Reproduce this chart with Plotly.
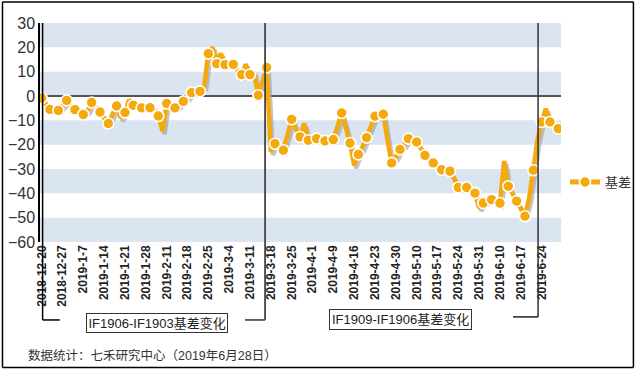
import plotly.graph_objects as go

# ---------------- data ----------------
tick_labels = ["2018-12-20", "2018-12-27", "2019-1-7", "2019-1-14", "2019-1-21",
               "2019-1-28", "2019-2-11", "2019-2-18", "2019-2-25", "2019-3-4",
               "2019-3-11", "2019-3-18", "2019-3-25", "2019-4-1", "2019-4-9",
               "2019-4-16", "2019-4-23", "2019-4-30", "2019-5-10", "2019-5-17",
               "2019-5-24", "2019-5-31", "2019-6-10", "2019-6-17", "2019-6-24"]
tick_step = 5  # trading days between labels

basis = [-0.8, -3, -5.5, -5.5, -5.9, -4, -1.8, -4, -5.6, -7,
         -7.6, -6, -2.7, -4.5, -6.6, -9, -11.3, -7.5, -4.1, -9,
         -6.8, -1.5, -3.8, -4.5, -4.9, -5, -4.8, -5.5, -8.2, -14.5,
         -3.1, -4, -4.9, -3.5, -2.2, -0.5, 1.4, 1.5, 1.9, 4,
         17.4, 20, 13.3, 17.5, 12.9, 13, 13, 10.5, 8.8, 13,
         8.8, 9, 0.3, 6, 11.7, -23, -19.6, -21, -22.3, -16,
         -9.6, -13.5, -16.8, -11.3, -18.2, -17.5, -17.5, -18, -18.5, -18,
         -17.9, -12.5, -7, -13, -19.3, -28.5, -24, -21, -17.1, -12.5,
         -8.3, -8, -7.5, -18, -27.5, -25, -22, -20, -17.5, -18,
         -18.9, -21.5, -24.4, -26, -27.5, -29, -30.3, -30.5, -30.9, -34,
         -37.6, -37.5, -37.6, -39, -39.9, -46, -44, -43, -42.6, -43.5,
         -44, -26.7, -37.1, -40, -43.2, -46, -49.4, -42, -30.5, -18,
         -10.7, -5.2, -10.7, -11.5, -13.4]
series_name = "基差"
marker_every = 2

y_ticks = [30, 20, 10, 0, -10, -20, -30, -40, -50, -60]
band_ranges = [(20, 30), (0, 10), (-20, -10), (-40, -30), (-60, -50)]

period_labels = ["IF1906-IF1903基差变化", "IF1909-IF1906基差变化"]
source_text = "数据统计：七禾研究中心（2019年6月28日）"

# ---------------- styles ----------------
ORANGE = "#F4A90C"
SHADOW = "rgba(150,150,150,0.55)"
BAND = "#DBE5F1"
FONT = "Arial, 'Liberation Sans', 'Noto Sans CJK SC', sans-serif"

x = list(range(len(basis)))
xm = x[::marker_every]
ym = basis[::marker_every]
x_shadow = [v + 0.5 for v in x]
y_shadow = [v - 1.2 for v in basis]

fig = go.Figure()
fig.add_trace(go.Scatter(x=x_shadow, y=y_shadow, mode="lines",
                         line=dict(color=SHADOW, width=4.5), showlegend=False,
                         hoverinfo="skip"))
fig.add_trace(go.Scatter(x=x, y=basis, mode="lines",
                         line=dict(color=ORANGE, width=4.5), showlegend=False))
fig.add_trace(go.Scatter(x=xm, y=ym, mode="markers",
                         marker=dict(color=ORANGE, size=11,
                                     line=dict(color="white", width=1.6)),
                         showlegend=False))
fig.add_trace(go.Scatter(x=[None], y=[None], mode="lines+markers", name=series_name,
                         line=dict(color=ORANGE, width=5),
                         marker=dict(color=ORANGE, size=11,
                                     line=dict(color="white", width=1.6))))

shapes = []
for lo, hi in band_ranges:
    shapes.append(dict(type="rect", xref="paper", yref="y", x0=0, x1=1, y0=lo, y1=hi,
                       fillcolor=BAND, line=dict(width=0), layer="below"))

def pline(x0, y0, x1, y1, color="#111", width=1.5):
    return dict(type="line", xref="paper", yref="paper", x0=x0, y0=y0, x1=x1, y1=y1,
                line=dict(color=color, width=width), layer="above")

# brackets
shapes += [
    pline(0.005, 1.0, 0.005, -0.356, "#000", 1.5),
    pline(0.005, -0.356, 0.038, -0.356, "#000", 1.5),
    pline(0.3935, -0.356, 0.432, -0.356, "#333", 1.5),
    pline(0.432, -0.356, 0.432, 1.0, "#444", 1.8),
    pline(0.908, -0.342, 0.956, -0.342, "#222", 1.5),
    pline(0.956, -0.342, 0.956, 1.0, "#333", 1.5),
]
# outer frame
fx0, fx1, fy0, fy1 = -0.072, 1.139, -0.573, 1.096
shapes += [
    pline(fx0, fy1, fx1, fy1, "#000", 1.5),
    pline(fx0, fy0, fx1, fy0, "#000", 1.5),
    pline(fx0, fy0, fx0, fy1, "#000", 1.5),
    pline(fx1, fy0, fx1, fy1, "#000", 1.5),
]

annotations = [
    dict(text=period_labels[0], xref="paper", yref="paper", x=0.2255, y=-0.3676,
         xanchor="center", yanchor="middle",
         showarrow=False, font=dict(family=FONT, size=13, color="#222"),
         bordercolor="#333", borderwidth=1, borderpad=1.5, bgcolor="white"),
    dict(text=period_labels[1], xref="paper", yref="paper", x=0.691, y=-0.354,
         xanchor="center", yanchor="middle",
         showarrow=False, font=dict(family=FONT, size=13, color="#222"),
         bordercolor="#333", borderwidth=1, borderpad=2, bgcolor="white"),
    dict(text=source_text, xref="paper", yref="paper", x=-0.027, y=-0.52,
         xanchor="left", yanchor="middle", showarrow=False,
         font=dict(family=FONT, size=12.5, color="#333")),
]

fig.update_layout(
    width=638, height=371,
    margin=dict(l=40, r=77, t=23, b=129, autoexpand=False),
    paper_bgcolor="white", plot_bgcolor="white",
    font=dict(family=FONT, color="#333"),
    shapes=shapes, annotations=annotations,
    legend=dict(xref="container", yref="container", x=0.8856, y=0.5094,
                xanchor="left", yanchor="middle",
                font=dict(family=FONT, size=13, color="#333"),
                bgcolor="rgba(0,0,0,0)"),
    xaxis=dict(range=[-0.4, 124.65], tickvals=[i * tick_step for i in range(len(tick_labels))],
               ticktext=tick_labels, tickangle=-90, showgrid=False, zeroline=False,
               showline=False, ticks="",
               tickfont=dict(family=FONT, size=12, color="#222", weight="bold")),
    yaxis=dict(range=[-60, 30], tickvals=y_ticks, showgrid=False,
               zeroline=True, zerolinecolor="#555", zerolinewidth=2,
               showline=True, linecolor="#000", linewidth=1.5, ticks="",
               tickfont=dict(family=FONT, size=16, color="#333")),
)

fig.write_html("out.html", config={"displayModeBar": False},
               post_script="document.body.style.margin='0px';document.body.style.overflow='hidden';")
